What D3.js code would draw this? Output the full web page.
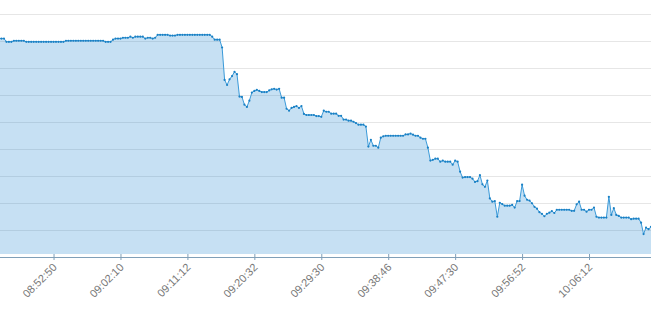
<!DOCTYPE html>
<html>
<head>
<meta charset="utf-8">
<script src="https://cdnjs.cloudflare.com/ajax/libs/d3/7.8.5/d3.min.js"></script>
<style>
body { margin: 0; background: #fff; }
svg { display: block; font-family: "Liberation Sans", Arial, sans-serif; }
</style>
</head>
<body>
<div id="chart"></div>
<script>
// one value per sample
var values = [
    80.9, 80.9, 80.9, 79.7, 79.7, 79.7, 80.1, 80.1, 80.1, 80.1,
    80.1, 79.7, 79.7, 79.7, 79.7, 79.7, 79.7, 79.7, 79.7, 79.7,
    79.7, 79.7, 79.7, 79.7, 79.7, 79.7, 79.7, 80.1, 80.1, 80.1,
    80.1, 80.1, 80.1, 80.1, 80.1, 80.1, 80.1, 80.1, 80.1, 80.1,
    80.1, 80.1, 80.1, 79.7, 79.7, 79.7, 80.5, 80.9, 80.9, 80.9,
    81.2, 81.2, 81.2, 81.6, 81.2, 81.6, 81.6, 81.6, 81.6, 80.9,
    81.2, 81.2, 80.9, 81.2, 82.3, 82.3, 82.3, 82.3, 82.3, 82.0,
    82.0, 82.0, 82.3, 82.3, 82.3, 82.3, 82.3, 82.3, 82.3, 82.3,
    82.3, 82.3, 82.3, 82.3, 82.3, 82.3, 81.6, 80.5, 80.5, 80.5,
    77.6, 65.6, 63.7, 65.8, 67.0, 68.6, 67.7, 59.4, 59.3, 56.4,
    55.6, 57.9, 60.9, 61.5, 61.9, 61.5, 61.1, 61.1, 61.1, 61.7,
    62.1, 62.3, 62.0, 62.3, 59.0, 59.0, 54.9, 54.2, 55.2, 55.6,
    55.9, 55.2, 55.9, 53.0, 52.6, 52.6, 52.6, 52.6, 52.2, 52.2,
    51.9, 54.2, 53.8, 53.8, 53.1, 53.1, 53.1, 52.3, 52.3, 50.9,
    50.9, 50.5, 50.5, 50.1, 49.6, 49.0, 49.0, 49.0, 48.3, 40.9,
    43.4, 41.2, 41.2, 40.5, 44.2, 44.7, 44.9, 44.9, 44.9, 44.9,
    44.9, 44.9, 44.9, 44.9, 45.4, 45.4, 45.7, 45.3, 44.9, 44.9,
    44.2, 43.8, 43.8, 40.5, 35.7, 36.0, 36.4, 36.4, 35.3, 35.7,
    35.3, 35.3, 35.3, 34.2, 35.7, 35.3, 31.6, 29.4, 29.6, 29.6,
    29.6, 29.0, 27.8, 28.1, 30.3, 26.9, 26.0, 28.3, 21.7, 20.5,
    20.7, 14.9, 20.1, 19.6, 19.0, 19.0, 19.0, 19.3, 18.3, 20.7,
    20.7, 26.8, 22.7, 21.2, 20.9, 19.9, 18.6, 17.9, 16.6, 16.0,
    15.1, 16.0, 16.4, 17.0, 16.3, 17.5, 17.5, 17.5, 17.5, 17.5,
    17.5, 17.1, 17.1, 19.5, 20.5, 17.5, 17.5, 16.8, 17.5, 17.5,
    18.3, 14.9, 14.6, 14.6, 14.6, 14.6, 22.3, 15.6, 18.1, 15.6,
    15.2, 14.6, 14.6, 14.6, 14.6, 14.0, 14.2, 14.2, 14.2, 12.7,
    8.5, 10.9, 10.3, 11.2
];

// which samples carry a time label
var tickIndex = [22, 49, 76, 103, 130, 157, 184, 211, 238];
var tickLabels = ["08:52:50", "09:02:10", "09:11:12", "09:20:32", "09:29:30",
                  "09:38:46", "09:47:30", "09:56:52", "10:06:12"];
var yTicks = [10, 20, 30, 40, 50, 60, 70, 80, 90];

var width = 664, height = 312;
var plotRight = 651, plotTop = 14, axisY = 257, plotBottom = 254;

var svg = d3.select("#chart").append("svg")
    .attr("width", width)
    .attr("height", height);

var x = d3.scaleLinear().domain([0, values.length - 1]).range([-1, plotRight]);
var y = d3.scaleLinear().domain([0, 90]).range([axisY, plotTop]);

svg.append("defs").append("clipPath").attr("id", "clip")
    .append("rect")
    .attr("x", 0).attr("y", 0)
    .attr("width", plotRight).attr("height", axisY);

// horizontal grid lines
var grid = svg.append("g")
    .call(d3.axisLeft(y).tickValues(yTicks).tickSize(-plotRight).tickFormat(""));
grid.select(".domain").remove();
grid.selectAll("line").attr("stroke", "#e6e6e6");

var plot = svg.append("g").attr("clip-path", "url(#clip)");

var area = d3.area()
    .x(function(d, i) { return x(i); })
    .y0(plotBottom)
    .y1(function(d) { return y(d); });

var line = d3.line()
    .x(function(d, i) { return x(i); })
    .y(function(d) { return y(d); });

plot.append("path")
    .datum(values)
    .attr("d", area)
    .attr("fill", "#1b83cf")
    .attr("fill-opacity", 0.25);

plot.append("path")
    .datum(values)
    .attr("d", line)
    .attr("fill", "none")
    .attr("stroke", "#3a9ad9")
    .attr("stroke-width", 1);

plot.selectAll("circle")
    .data(values)
    .enter().append("circle")
    .attr("cx", function(d, i) { return x(i); })
    .attr("cy", function(d) { return y(d); })
    .attr("r", 1.1)
    .attr("fill", "#1a80c4");

// x axis
var xAxis = svg.append("g")
    .attr("transform", "translate(0," + axisY + ")")
    .call(d3.axisBottom(x)
        .tickValues(tickIndex)
        .tickFormat(function(d, i) { return tickLabels[i]; })
        .tickSizeInner(3)
        .tickSizeOuter(0));

xAxis.select(".domain")
    .attr("d", "M0,0.5H" + plotRight)
    .attr("stroke", "#7f9fb8");
xAxis.selectAll(".tick line")
    .attr("y1", -3)
    .attr("stroke", "#7f9fb8");
xAxis.selectAll(".tick text")
    .attr("y", 0)
    .attr("dy", 0)
    .attr("transform", "translate(3.5,11) rotate(-45)")
    .style("text-anchor", "end")
    .style("font-size", "11px")
    .attr("fill", "#777");
</script>
</body>
</html>
